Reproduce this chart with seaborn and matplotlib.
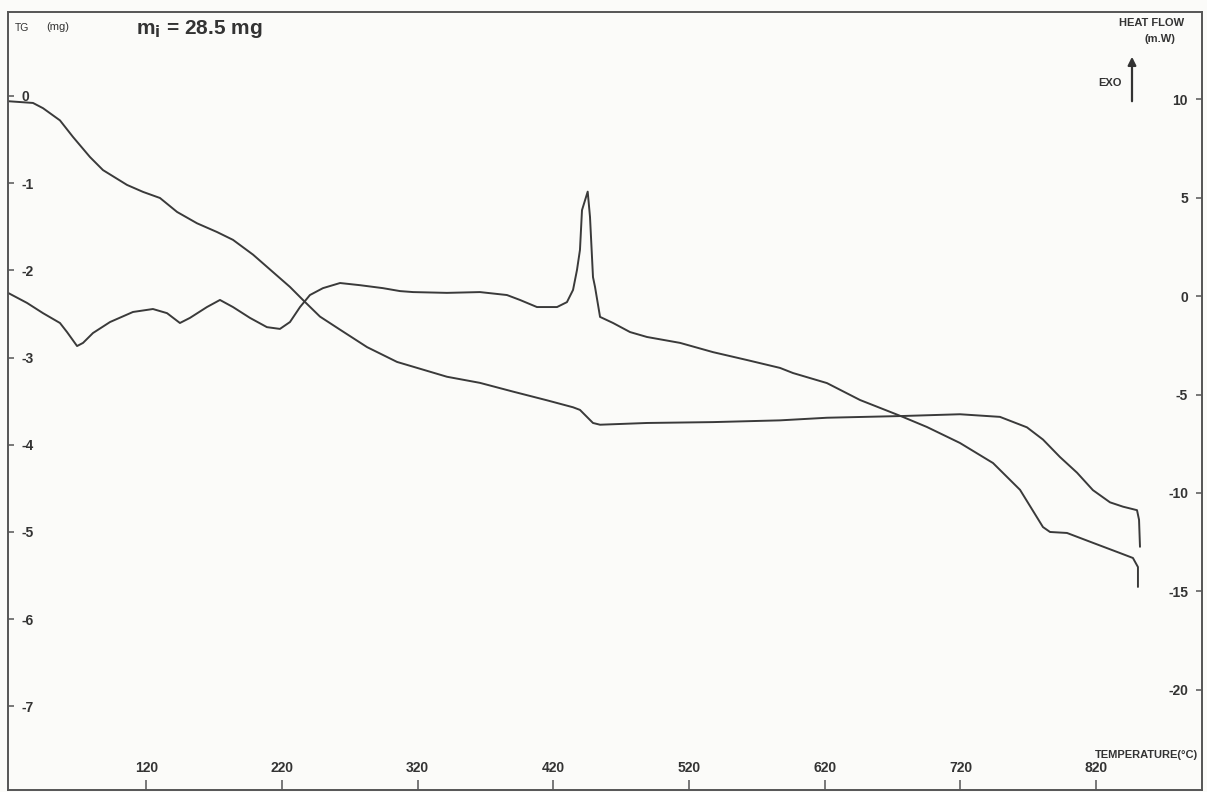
import numpy as np
import pandas as pd
import matplotlib
matplotlib.use("Agg")
import matplotlib.pyplot as plt
import seaborn as sns

# ---- data ----
tg_temp = [18.1, 36.5, 43.9, 56.4, 66.0, 78.5, 88.1, 105.8, 117.6, 130.1, 142.7, 157.4,
           172.1, 183.9, 198.7, 213.4, 225.9, 235.5, 248.0, 262.8, 282.7, 304.8, 341.6,
           365.9, 390.2, 415.3, 434.5, 439.6, 449.2, 454.4, 489.0, 537.7, 587.0, 621.6,
           677.6, 719.6, 749.1, 769.0, 780.8, 793.3, 805.9, 817.6, 830.2, 839.8, 850.1,
           851.6, 852.3]
tg_mg = [-0.06, -0.08, -0.14, -0.28, -0.47, -0.70, -0.85, -1.02, -1.10, -1.17, -1.33, -1.46,
         -1.56, -1.65, -1.82, -2.02, -2.19, -2.34, -2.53, -2.68, -2.88, -3.05, -3.22,
         -3.29, -3.39, -3.49, -3.57, -3.60, -3.75, -3.77, -3.75, -3.74, -3.72, -3.69,
         -3.67, -3.65, -3.68, -3.80, -3.94, -4.14, -4.32, -4.52, -4.66, -4.71, -4.75,
         -4.86, -5.17]

dta_temp = [18.1, 32.1, 43.9, 56.4, 61.6, 69.0, 73.4, 80.7, 93.3, 110.2, 124.9, 135.3,
            144.8, 152.2, 164.7, 174.3, 183.9, 196.4, 208.9, 218.5, 225.9, 233.3, 240.6,
            250.2, 262.8, 277.5, 294.4, 307.0, 316.6, 341.6, 365.9, 385.8, 395.4, 407.9,
            422.7, 430.0, 434.5, 437.4, 439.6, 441.1, 445.3, 447.0, 449.2, 450.7, 454.4,
            464.0, 476.5, 489.0, 513.4, 537.7, 562.7, 587.0, 596.6, 621.6, 646.0, 670.3,
            677.6, 695.3, 719.6, 744.0, 763.9, 780.8, 786.0, 798.5, 817.6, 837.6, 847.1,
            850.8, 850.8]
dta_mw = [0.16, -0.35, -0.87, -1.37, -1.83, -2.54, -2.38, -1.88, -1.32, -0.81, -0.66, -0.87,
          -1.37, -1.11, -0.56, -0.20, -0.56, -1.11, -1.58, -1.67, -1.32, -0.56, 0.05,
          0.40, 0.66, 0.55, 0.40, 0.25, 0.20, 0.16, 0.20, 0.05, -0.20, -0.56,
          -0.56, -0.31, 0.31, 1.32, 2.34, 4.36, 5.30, 4.01, 0.96, 0.46, -1.06,
          -1.37, -1.83, -2.08, -2.38, -2.85, -3.25, -3.65, -3.91, -4.42, -5.28, -5.94,
          -6.14, -6.65, -7.46, -8.48, -9.84, -11.73, -11.98, -12.03, -12.53, -13.05, -13.30,
          -13.76, -14.77]

temp_ticks = [120, 220, 320, 420, 520, 620, 720, 820]
tg_ticks = [0, -1, -2, -3, -4, -5, -6, -7]
hf_ticks = [10, 5, 0, -5, -10, -15, -20]

# ---- figure ----
sns.set_theme(style="white")
plt.rcParams["font.family"] = ["Liberation Sans", "DejaVu Sans"]
plt.rcParams["axes.unicode_minus"] = False

W, H = 1207, 792
fig = plt.figure(figsize=(W / 100, H / 100), dpi=100)
fig.patch.set_facecolor("#fbfbf9")

L, R, T, B = 8, 1202, 12, 790
ax = fig.add_axes([L / W, 1 - B / H, (R - L) / W, (B - T) / H])
ax.set_facecolor("#fbfbf9")
ax2 = ax.twinx()

line_col = "#3a3a3a"
tg_df = pd.DataFrame({"T": tg_temp, "TG": tg_mg})
dta_df = pd.DataFrame({"T": dta_temp, "HF": dta_mw})
sns.lineplot(data=tg_df, x="T", y="TG", ax=ax, sort=False, estimator=None,
             color=line_col, linewidth=1.4)
sns.lineplot(data=dta_df, x="T", y="HF", ax=ax2, sort=False, estimator=None,
             color=line_col, linewidth=1.4)

ax.set_xlim(18.1, 898)
ax.set_ylim(-7.959, 0.963)
ax2.set_ylim(-25.08, 14.42)

for a in (ax, ax2):
    a.set_xlabel("")
    a.set_ylabel("")
    for s in a.spines.values():
        s.set_color("#555555")
        s.set_linewidth(1.2)

tick_font = dict(fontsize=10, fontweight="bold", color="#333333")

ax.set_xticks(temp_ticks)
ax.set_xticklabels([str(t) for t in temp_ticks], **tick_font)
ax.tick_params(axis="x", direction="in", length=7, width=1.1, color="#555555", pad=-21,
               bottom=True)

ax.set_yticks(tg_ticks)
ax.set_yticklabels([str(t) for t in tg_ticks], **tick_font)
ax.tick_params(axis="y", direction="in", length=4.5, width=1.1, color="#555555", pad=-10,
               left=True)
for lab in ax.get_yticklabels():
    lab.set_horizontalalignment("left")

ax2.set_yticks(hf_ticks)
ax2.set_yticklabels([str(t) for t in hf_ticks], **tick_font)
ax2.tick_params(axis="y", direction="in", length=4.5, width=1.1, color="#555555", pad=-10,
                right=True)
for lab in ax2.get_yticklabels():
    lab.set_horizontalalignment("right")

# ---- annotations ----
def fx(px):
    return px / W

def fy(py):
    return 1 - py / H

fig.text(fx(15), fy(28), "TG", fontsize=7.5, color="#333333", va="center")
fig.text(fx(46), fy(27), "(mg)", fontsize=8, color="#333333", va="center")
fig.text(fx(136), fy(29), r"m$_{\mathbf{i}}$ = 28.5 mg", fontsize=15, fontweight="bold",
         color="#333333", va="center")
fig.text(fx(1184), fy(23), "HEAT FLOW", fontsize=8, fontweight="bold", color="#333333",
         va="center", ha="right")
fig.text(fx(1175), fy(39), "(m.W)", fontsize=8, fontweight="bold", color="#333333",
         va="center", ha="right")
fig.text(fx(1122), fy(83), "EXO", fontsize=8, fontweight="bold", color="#333333",
         va="center", ha="right")
ax.annotate("", xy=(fx(1132), fy(54)), xytext=(fx(1132), fy(104)),
            xycoords="figure fraction", textcoords="figure fraction",
            arrowprops=dict(arrowstyle="-|>", lw=1.6, color="#333333", mutation_scale=12))
fig.text(fx(1198), fy(755), "TEMPERATURE(°C)", fontsize=8, fontweight="bold",
         color="#333333", va="center", ha="right")

fig.savefig("out.png", dpi=100, facecolor=fig.get_facecolor())
